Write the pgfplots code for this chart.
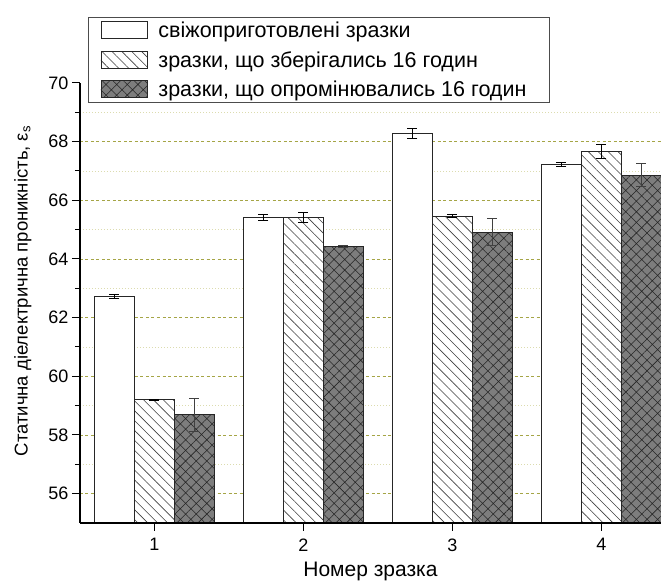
\documentclass[border=0pt]{standalone}
\usepackage{fontspec}
\setmainfont{Liberation Sans}
\usepackage{pgfplots}
\usepackage{pgfplotstable}
\pgfplotsset{compat=1.18}
\usetikzlibrary{patterns.meta}

\definecolor{gridmaj}{RGB}{165,165,70}
\definecolor{gridmin}{RGB}{220,220,175}
\definecolor{darkbar}{RGB}{125,125,125}

% sample, value and its error for each series
\pgfplotstableread{
x fresh efresh stored estored irr eirr
1 62.72 0.08 59.20 0.02 58.69 0.57
2 65.43 0.10 65.42 0.16 64.42 0.04
3 68.28 0.16 65.46 0.05 64.92 0.47
4 67.22 0.08 67.67 0.24 66.86 0.39
}\datatable

\begin{document}
\begin{tikzpicture}
\begin{axis}[
  scale only axis,
  width=581pt, height=440pt,
  xmin=0.5, xmax=4.4,
  ymin=55, ymax=70,
  ybar=0pt, bar width=40pt,
  axis x line*=bottom, axis y line*=left,
  axis line style={line width=1.2pt},
  tick align=outside,
  xtick={1,2,3,4},
  ytick={56,58,...,68},
  extra y ticks={70},
  extra y tick style={grid=none},
  minor ytick={57,59,...,69},
  major tick length=8pt, minor tick length=5pt,
  tick style={line width=1pt, black},
  ymajorgrids, yminorgrids,
  major grid style={gridmaj, dash pattern=on 3pt off 2.5pt, line width=0.8pt},
  minor grid style={gridmin, dash pattern=on 1pt off 2pt, line width=0.8pt},
  /pgf/number format/assume math mode=true,
  ticklabel style={font=\fontsize{18}{20}\selectfont},
  xticklabel style={yshift=-4pt},
  xlabel={Номер зразка},
  ylabel={Статична діелектрична проникність, ε\textsubscript{s}},
  xlabel style={font=\fontsize{21}{24}\selectfont, yshift=-4pt},
  ylabel style={font=\fontsize{18.5}{22}\selectfont, yshift=-6pt, xshift=12pt},
  legend cell align=left,
  legend style={at={(0.014,1.15)}, anchor=north west, draw=black!70,
    line width=0.8pt,
    font=\fontsize{21.5}{25}\selectfont, inner xsep=12pt, inner ysep=3pt,
    row sep=8pt, column sep=9pt},
  legend image code/.code={\draw[#1] (0pt,-8pt) rectangle (46pt,9pt);},
  error bars/y dir=both, error bars/y explicit,
  % bottom axis line kept in front of the bars
  after end axis/.code={\draw[line width=1.2pt] (rel axis cs:0,0) -- (rel axis cs:1,0);},
]
\addplot[draw=black!85, line width=0.9pt, fill=white,
  error bars/error bar style={black, line width=0.9pt},
  error bars/error mark options={black, rotate=90, mark size=5pt, line width=0.9pt}]
  table[x=x, y=fresh, y error=efresh] {\datatable};
\addlegendentry{свіжоприготовлені зразки}

\addplot[draw=black!85, line width=0.9pt, fill=white,
  postaction={pattern={Lines[angle=-45, distance=7pt, line width=0.6pt]}, pattern color=black!75},
  error bars/error bar style={black, line width=0.9pt},
  error bars/error mark options={black, rotate=90, mark size=5pt, line width=0.9pt}]
  table[x=x, y=stored, y error=estored] {\datatable};
\addlegendentry{зразки, що зберігались 16 годин}

\addplot[draw=black!85, line width=0.9pt, fill=darkbar,
  postaction={pattern={Hatch[angle=45, distance=7.5pt, line width=0.55pt]}, pattern color=black!85},
  error bars/error bar style={black!75, line width=0.9pt},
  error bars/error mark options={black!75, rotate=90, mark size=5pt, line width=0.9pt}]
  table[x=x, y=irr, y error=eirr] {\datatable};
\addlegendentry{зразки, що опромінювались 16 годин\hspace*{9pt}}
\end{axis}
\pgfresetboundingbox
\path[use as bounding box] ([shift={(-80pt,-60pt)}]current axis.south west)
  rectangle ([shift={(581pt,523pt)}]current axis.south west);
\end{tikzpicture}
\end{document}
